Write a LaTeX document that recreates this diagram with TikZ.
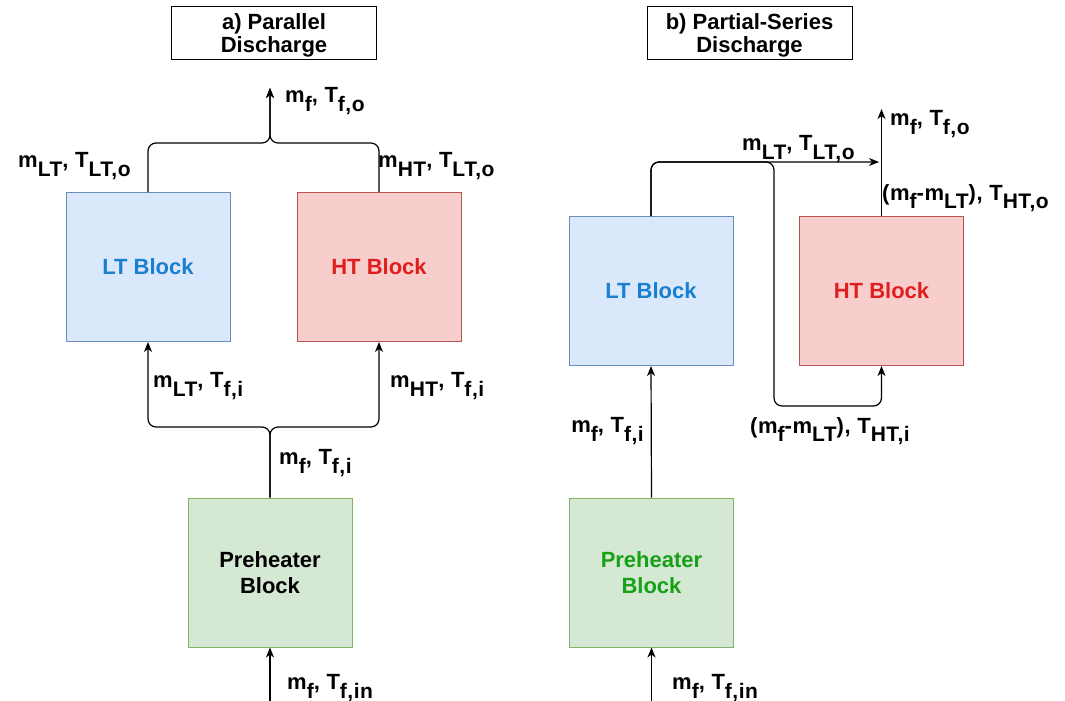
\documentclass[tikz,border=0pt]{standalone}
\usepackage{fontspec}
\setmainfont{Liberation Sans}
\newfontfamily\labfont[LetterSpace=2.5]{Liberation Sans}
\usetikzlibrary{arrows.meta}
\definecolor{ltfill}{HTML}{DAE8FC}
\definecolor{ltline}{HTML}{6C8EBF}
\definecolor{lttext}{HTML}{1A7FCF}
\definecolor{htfill}{HTML}{F8CECC}
\definecolor{htline}{HTML}{B85450}
\definecolor{httext}{HTML}{E01E1E}
\definecolor{phfill}{HTML}{D5E8D4}
\definecolor{phline}{HTML}{82B366}
\definecolor{phtext}{HTML}{16A116}
\newcommand\lsub[1]{\raisebox{-0.38em}{\fontsize{21}{21}\selectfont #1}}
\tikzset{
  blockbox/.style={draw, line width=1pt, minimum width=164pt, minimum height=149pt, inner sep=0pt, align=center, font=\fontsize{22}{26}\selectfont\bfseries},
  titlebox/.style={draw, line width=1pt, minimum width=205pt, minimum height=53pt, inner sep=0pt, align=center, font=\fontsize{22}{23}\selectfont\bfseries},
  titletext/.style={inner sep=0pt, align=center, font=\fontsize{22}{23}\selectfont\bfseries},
  lab/.style={inner sep=0pt, font=\labfont\bfseries\fontsize{22}{24}\selectfont},
  conn/.style={line width=1.2pt, rounded corners=8pt, -{Stealth[length=10pt,width=8pt,inset=3pt]}}
}
\begin{document}
\begin{tikzpicture}[x=1pt,y=-1pt]
\useasboundingbox (0,0) rectangle (1065,701);
% ---------- panel a ----------
\node[titlebox] (ta) at (274,33.5) {};
\node[titletext] (tat) at (274,35.5) {a) Parallel\\Discharge};
\node[blockbox, fill=ltfill, draw=ltline, text=lttext] (lta) at (148,267) {LT Block};
\node[blockbox, fill=htfill, draw=htline, text=httext] (hta) at (379,267) {HT Block};
\node[blockbox, fill=phfill, draw=phline, text=black] (pha) at (270,572.5) {Preheater\\Block};
\coordinate (outa) at (270,88);
\coordinate (ja) at (270,143);
\coordinate (jb) at (270,427);
\coordinate (ina) at (270,701);
\draw[conn] (lta.north) |- (ja) -- (outa);
\draw[conn] (hta.north) |- (ja) -- (outa);
\draw[conn] (pha.north) -- (jb) -| (lta.south);
\draw[conn] (pha.north) -- (jb) -| (hta.south);
\draw[conn] (ina) -- (pha.south);
\node[lab, anchor=west] (la1) at (285,101) {m\lsub{f}, T\lsub{f,o}};
\node[lab, anchor=west] (la2) at (18,166) {m\lsub{LT}, T\lsub{LT,o}};
\node[lab, anchor=west] (la3) at (378,166) {m\lsub{HT}, T\lsub{LT,o}};
\node[lab, anchor=west] (la4) at (153,386) {m\lsub{LT}, T\lsub{f,i}};
\node[lab, anchor=west] (la5) at (390,386) {m\lsub{HT}, T\lsub{f,i}};
\node[lab, anchor=west] (la6) at (279,463) {m\lsub{f}, T\lsub{f,i}};
\node[lab, anchor=west] (la7) at (287,688) {m\lsub{f}, T\lsub{f,in}};
% ---------- panel b ----------
\node[titlebox] (tb) at (749.5,33.5) {};
\node[titletext] (tbt) at (749.5,35.5) {b) Partial-Series\\Discharge};
\node[blockbox, fill=ltfill, draw=ltline, text=lttext] (ltb) at (651,291) {LT Block};
\node[blockbox, fill=htfill, draw=htline, text=httext] (htb) at (881.5,291) {HT Block};
\node[blockbox, fill=phfill, draw=phline, text=phtext] (phb) at (651.5,572.5) {Preheater\\Block};
\coordinate (inb) at (651.5,701);
\coordinate (ob) at (881.5,109);
\coordinate (tipb) at (879,162);
\coordinate (kb1) at (774,162);
\coordinate (kb2) at (774,406);
\draw[conn] (inb) -- (phb.south);
\draw[conn] (phb.north) -- (ltb.south);
\draw[conn] (ltb.north) |- (tipb);
\draw[conn] (ltb.north) |- (kb1) -- (kb2) -| (htb.south);
\draw[conn] (htb.north) -- (ob);
\node[lab, anchor=west] (lb1) at (742,149) {m\lsub{LT}, T\lsub{LT,o}};
\node[lab, anchor=west] (lb2) at (890,124) {m\lsub{f}, T\lsub{f,o}};
\node[lab, anchor=west] (lb3) at (882,198) {(m\lsub{f}-m\lsub{LT}), T\lsub{HT,o}};
\node[lab, anchor=west] (lb4) at (750,431) {(m\lsub{f}-m\lsub{LT}), T\lsub{HT,i}};
\node[lab, anchor=east] (lb5) at (644,431) {m\lsub{f}, T\lsub{f,i}};
\node[lab, anchor=west] (lb6) at (672,688) {m\lsub{f}, T\lsub{f,in}};
\end{tikzpicture}
\end{document}
